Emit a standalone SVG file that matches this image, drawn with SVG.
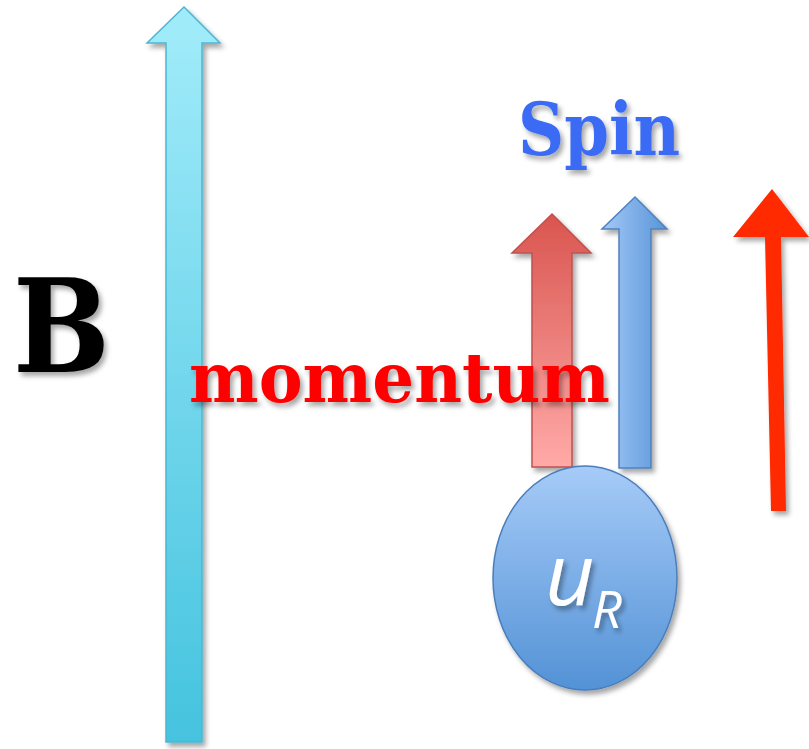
<svg xmlns="http://www.w3.org/2000/svg" width="809" height="749" viewBox="0 0 809 749">
<style>
.t{font-family:"DejaVu Serif","Liberation Serif",serif;font-weight:bold}
</style>
<defs>
<linearGradient id="gCyan" x1="0" y1="0" x2="0" y2="1"><stop offset="0" stop-color="#A2ECFA"/><stop offset="1" stop-color="#45C3DF"/></linearGradient>
<linearGradient id="gRed" x1="0" y1="0" x2="0" y2="1"><stop offset="0" stop-color="#D9554F"/><stop offset="1" stop-color="#FFAAA8"/></linearGradient>
<linearGradient id="gBlue" x1="0" y1="0" x2="1" y2="0"><stop offset="0" stop-color="#A3C9F7"/><stop offset="1" stop-color="#5894D8"/></linearGradient>
<linearGradient id="gBall" x1="0" y1="0" x2="0" y2="1"><stop offset="0" stop-color="#A6CBF8"/><stop offset="1" stop-color="#5392D6"/></linearGradient>
<filter id="sh" x="-20%" y="-20%" width="140%" height="140%"><feDropShadow dx="3" dy="4" stdDeviation="2.5" flood-color="#000" flood-opacity="0.35"/></filter>
</defs>
<g id="arrow-B">
<polygon points="184,7 220,43 202,43 202,742 166,742 166,43 147,43" fill="url(#gCyan)" stroke="#4CB6D2" stroke-width="1.5" filter="url(#sh)"/>
</g>
<g id="arrow-momentum">
<polygon points="552,214 591,253 572,253 572,467 532,467 532,253 512,253" fill="url(#gRed)" stroke="#C0504D" stroke-width="1.5" filter="url(#sh)"/>
</g>
<g id="arrow-spin">
<polygon points="635,197 667,229 651,229 651,468 619,468 619,229 602,229" fill="url(#gBlue)" stroke="#4F81BD" stroke-width="1.5" filter="url(#sh)"/>
</g>
<g id="particle">
<ellipse cx="585" cy="578" rx="92" ry="112" fill="url(#gBall)" stroke="#4A7EBB" stroke-width="1.5" filter="url(#sh)"/>
<text x="545" y="605" font-family="'Open Sans','Noto Sans',sans-serif" font-style="italic" font-size="86" fill="#fff" filter="url(#sh)">u</text>
<text x="592" y="628" font-family="'Open Sans','Noto Sans',sans-serif" font-style="italic" font-size="52" fill="#fff" filter="url(#sh)">R</text>
</g>
<g id="arrow-right">
<polygon points="772,189 809,237 781,237 786,511 771,511 765,237 733,237" fill="#FF2A00" filter="url(#sh)"/>
</g>
<g id="labels">
<text class="t" x="13" y="372" font-size="130" textLength="97" lengthAdjust="spacingAndGlyphs" fill="#000" filter="url(#sh)">B</text>
<text class="t" x="189" y="402" font-size="70" textLength="421" lengthAdjust="spacingAndGlyphs" fill="#FF0000" filter="url(#sh)">momentum</text>
<text class="t" x="518" y="155" font-size="72" textLength="162" lengthAdjust="spacingAndGlyphs" fill="#3A6BF5" filter="url(#sh)">Spin</text>
</g>
<g id="connectors"></g>
</svg>
